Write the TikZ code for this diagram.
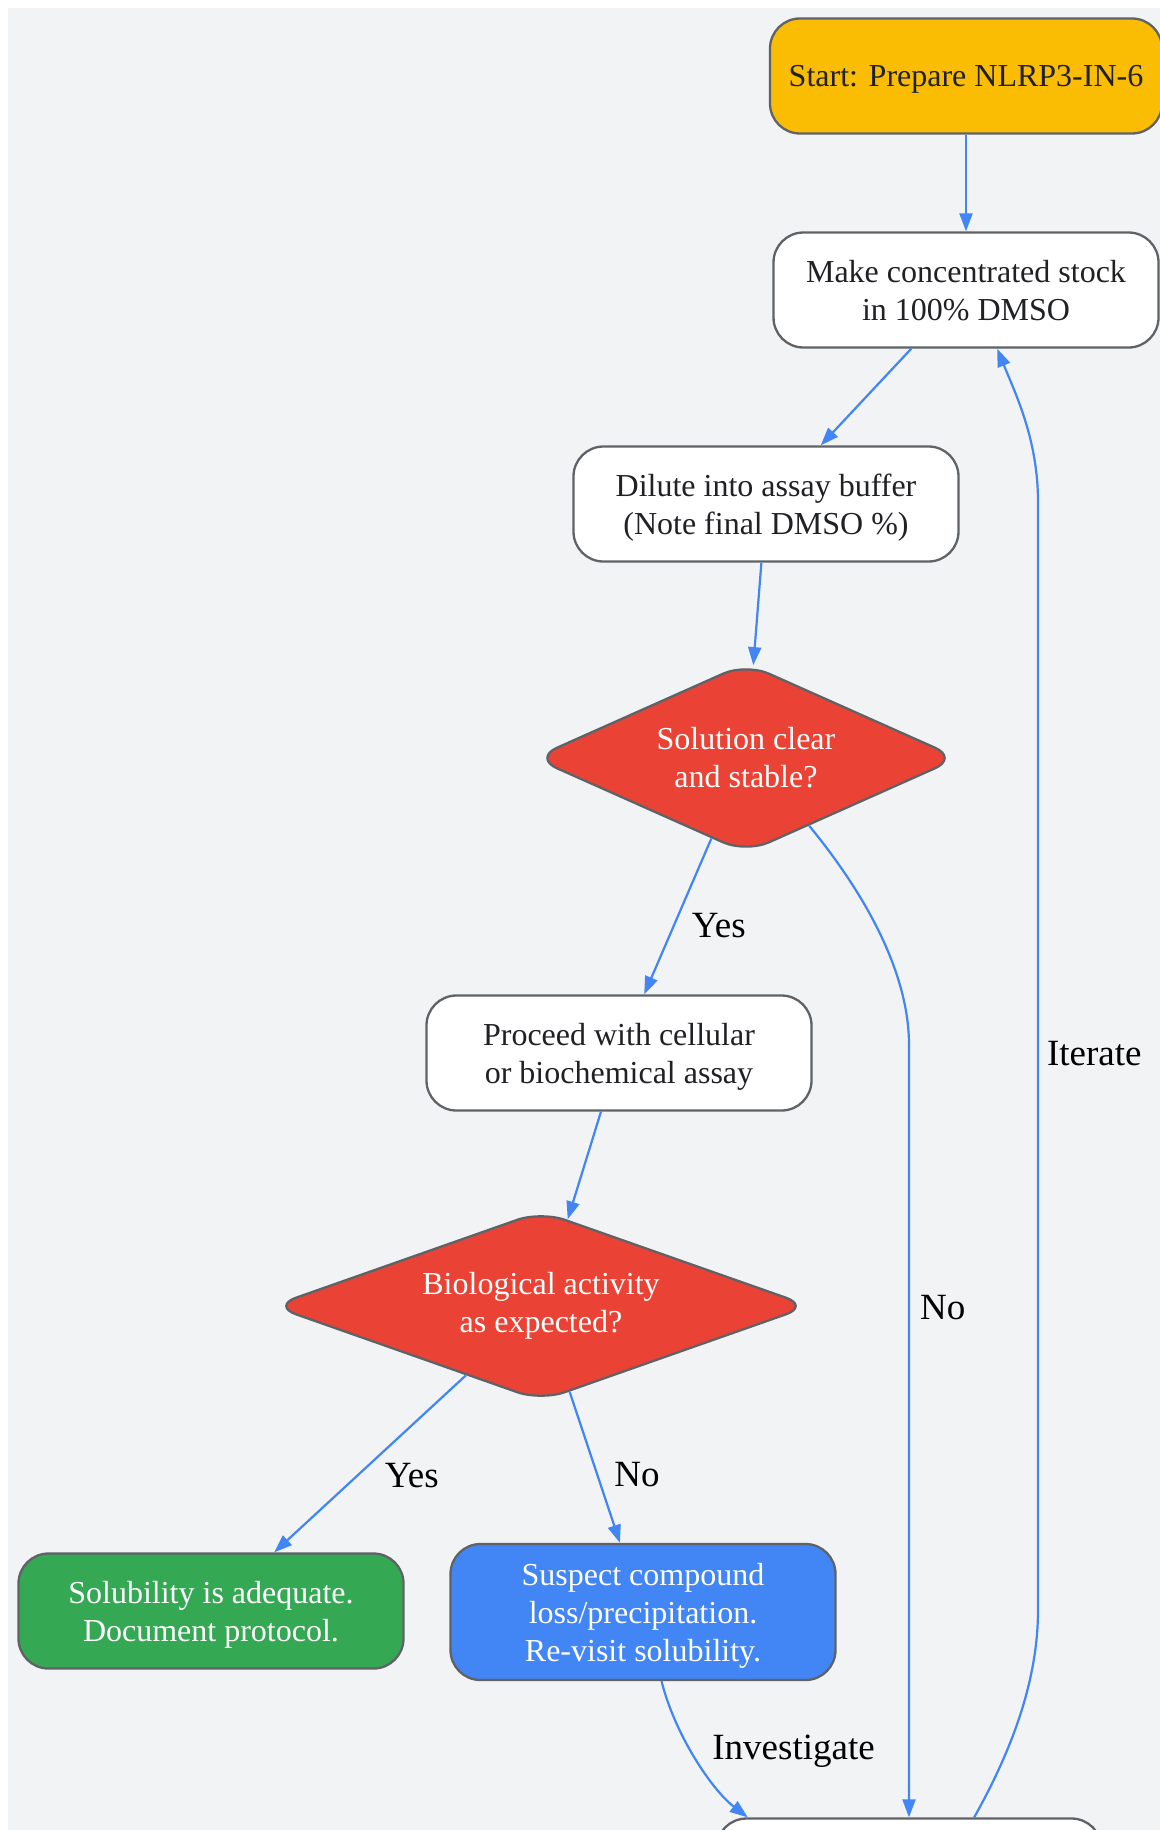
\documentclass[tikz,border=0pt]{standalone}
\usepackage{fontspec}
\setmainfont{Liberation Serif}
\usetikzlibrary{shapes.geometric,arrows.meta}
\definecolor{bg}{HTML}{F1F3F4}
\definecolor{edgeblue}{HTML}{4285F4}
\definecolor{bordergray}{HTML}{5F6368}
\definecolor{darktext}{HTML}{202124}
\definecolor{startyellow}{HTML}{FBBC04}
\definecolor{decred}{HTML}{EA4335}
\definecolor{okgreen}{HTML}{34A853}
\definecolor{infoblue}{HTML}{4285F4}
\begin{document}
\begin{tikzpicture}[x=1pt,y=-1pt,
  box/.style={draw=bordergray, line width=2.3pt, rounded corners=30pt,
    minimum width=385pt, minimum height=115pt, align=center,
    font=\fontsize{32}{38}\selectfont, text=darktext, inner sep=0pt,
    text depth=0pt},
  dec/.style={diamond, draw=bordergray, line width=2.3pt, rounded corners=25pt,
    fill=decred, text=white, align=center,
    font=\fontsize{32}{38}\selectfont, inner sep=0pt},
  conn/.style={draw=edgeblue, line width=2.2pt,
    -{Triangle[length=18pt,width=13pt]}},
  lbl/.style={font=\fontsize{37}{44}\selectfont, text=black, inner sep=0pt}]
\useasboundingbox (0,0) rectangle (1159,1830);
\fill[bg] (8,8) rectangle (1200,1900);

\node[box, fill=startyellow, minimum width=392pt] (start) at (966,76) {Start: Prepare NLRP3-IN-6};
\node[box, fill=white] (stock) at (966,290) {Make concentrated stock\\in 100\% DMSO};
\node[box, fill=white] (dilute) at (766,504) {Dilute into assay buffer\\(Note final DMSO \%)};
\node[dec, shape aspect=2.24, minimum width=425pt, minimum height=190pt] (d1) at (746,758) {Solution clear\\and stable?};
\node[box, fill=white] (proceed) at (619,1053) {Proceed with cellular\\or biochemical assay};
\node[dec, shape aspect=2.83, minimum width=538pt, minimum height=190pt] (d2) at (541,1306) {Biological activity\\as expected?};
\node[box, fill=okgreen, text=white] (ok) at (211,1611) {Solubility is adequate.\\Document protocol.};
\node[box, fill=infoblue, text=white, minimum height=136pt] (suspect) at (643,1612) {Suspect compound\\loss/precipitation.\\Re-visit solubility.};
\node[box, fill=white] (bottom) at (909,1876) {};

\draw[conn] (start) -- (stock);
\draw[conn] (stock) -- (dilute);
\draw[conn] (dilute) -- (d1);
\draw[conn] (d1) -- node[lbl, pos=0.56, anchor=west, xshift=17pt] {Yes} (proceed);
\draw[conn] (d1.-47) .. controls (862,890) and (909,970) .. (909,1045)
  -- node[lbl, pos=0.34, anchor=west, xshift=10pt] {No} (bottom);
\draw[conn] (proceed) -- (d2);
\draw[conn] (d2) -- node[lbl, pos=0.564, anchor=west, xshift=26pt] {Yes} (ok);
\draw[conn] (d2) -- node[lbl, pos=0.549, anchor=west, xshift=16pt] {No} (suspect);
\draw[conn] (suspect.-75) .. controls (675,1735) and (712,1790) .. 
  node[lbl, pos=0.5, anchor=west, xshift=15pt, yshift=8pt] {Investigate} (bottom.160);
\draw[conn] (bottom.42) .. controls (1012,1750) and (1038,1680) .. (1038,1610)
  -- node[lbl, pos=0.502, anchor=west, xshift=8pt] {Iterate} (1038,502)
  .. controls (1038,440) and (1016,395) .. (stock.-62);
\end{tikzpicture}
\end{document}
